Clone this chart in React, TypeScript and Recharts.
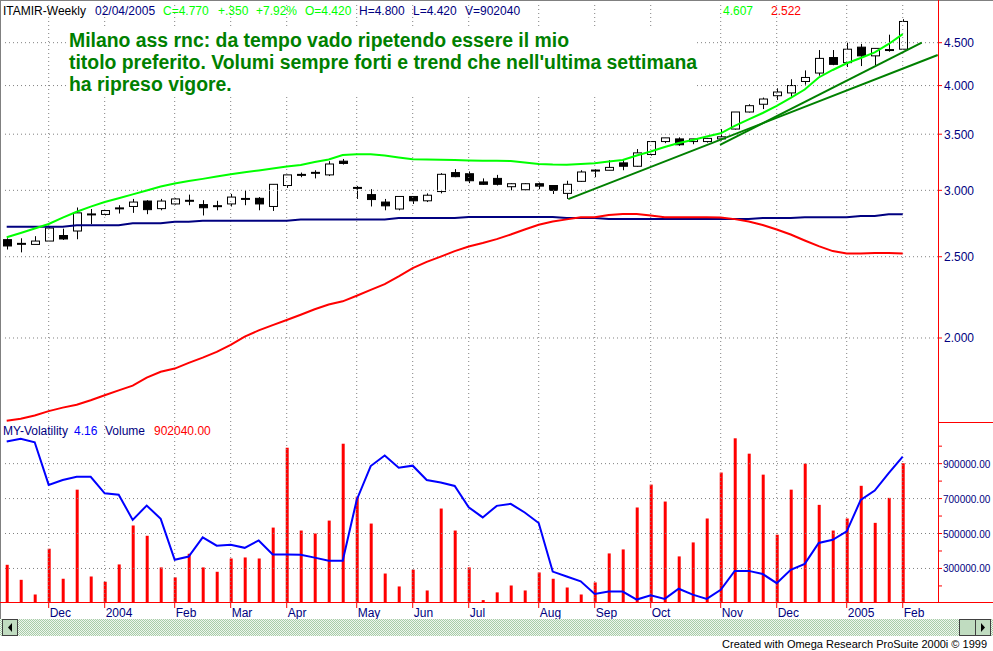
import React from "react";
import { ComposedChart, Bar, Line, XAxis, YAxis, ReferenceLine } from "recharts";

// weekly bars, Nov 14 2003 .. Feb 4 2005
const weekIdx = Array.from({ length: 65 }, (_, i) => i);

const opens = [
  2.62, 2.59, 2.586, 2.61, 2.65, 2.683, 2.808, 2.808, 2.855, 2.87,
  2.913, 2.853, 2.89, 2.915, 2.885, 2.865, 2.89, 2.93, 2.935, 2.87,
  3.04, 3.13, 3.155, 3.13, 3.25, 3.02, 2.965, 2.905, 2.85, 2.95,
  2.915, 2.99, 3.15, 3.14, 3.07, 3.1, 3.03, 3.005, 3.055, 3.04,
  2.975, 3.075, 3.17, 3.17, 3.235, 3.205, 3.31, 3.43, 3.455, 3.43,
  3.43, 3.455, 3.55, 3.72, 3.8, 3.89, 3.92, 4.045, 4.14, 4.32,
  4.26, 4.445, 4.34, 4.4, 4.42,
];
const highs = [
  2.63, 2.63, 2.645, 2.72, 2.7, 2.862, 2.85, 2.84, 2.88, 2.93,
  2.92, 2.93, 2.935, 2.965, 2.92, 2.915, 2.97, 3.0, 2.945, 3.05,
  3.13, 3.15, 3.17, 3.25, 3.27, 3.035, 3.01, 2.93, 2.95, 2.95,
  2.975, 3.145, 3.18, 3.16, 3.1, 3.13, 3.06, 3.06, 3.065, 3.04,
  3.08, 3.17, 3.18, 3.26, 3.26, 3.36, 3.43, 3.465, 3.47, 3.455,
  3.465, 3.55, 3.72, 3.8, 3.87, 3.97, 4.07, 4.17, 4.41, 4.41,
  4.5, 4.485, 4.43, 4.6, 4.8,
];
const lows = [
  2.55, 2.53, 2.586, 2.61, 2.618, 2.623, 2.735, 2.8, 2.815, 2.82,
  2.81, 2.84, 2.885, 2.88, 2.8, 2.84, 2.87, 2.88, 2.84, 2.835,
  3.02, 3.11, 3.1, 3.12, 3.22, 2.93, 2.87, 2.84, 2.84, 2.89,
  2.905, 2.975, 3.11, 3.06, 3.045, 3.04, 3.0, 3.0, 3.01, 2.97,
  2.93, 3.07, 3.11, 3.17, 3.17, 3.2, 3.3, 3.415, 3.39, 3.405,
  3.42, 3.44, 3.545, 3.715, 3.75, 3.845, 3.88, 4.01, 4.11, 4.23,
  4.21, 4.22, 4.23, 4.39, 4.42,
];
const closes = [
  2.575, 2.59, 2.61, 2.705, 2.625, 2.82, 2.808, 2.838, 2.855, 2.905,
  2.845, 2.913, 2.93, 2.915, 2.86, 2.88, 2.945, 2.93, 2.89, 3.05,
  3.13, 3.13, 3.14, 3.225, 3.23, 3.02, 2.925, 2.875, 2.95, 2.915,
  2.96, 3.135, 3.115, 3.08, 3.05, 3.05, 3.055, 3.055, 3.035, 3.0,
  3.05, 3.155, 3.165, 3.195, 3.205, 3.325, 3.43, 3.465, 3.4, 3.455,
  3.46, 3.475, 3.72, 3.785, 3.855, 3.93, 4.0, 4.09, 4.31, 4.24,
  4.42, 4.34, 4.43, 4.42, 4.77,
];

// bands / averages drawn on the price panel
const upperBand = [
  2.637, 2.668, 2.701, 2.735, 2.784, 2.829, 2.869, 2.905, 2.935, 2.967,
  2.999, 3.031, 3.057, 3.078, 3.096, 3.116, 3.135, 3.152, 3.168, 3.185,
  3.203, 3.216, 3.243, 3.265, 3.306, 3.312, 3.312, 3.301, 3.283, 3.267,
  3.265, 3.263, 3.26, 3.257, 3.254, 3.253, 3.251, 3.238, 3.225, 3.22,
  3.218, 3.225, 3.231, 3.247, 3.26, 3.301, 3.337, 3.379, 3.416, 3.445,
  3.478, 3.509, 3.58, 3.646, 3.71, 3.782, 3.866, 3.957, 4.09, 4.175,
  4.253, 4.315, 4.381, 4.484, 4.607,
];
const lowerBand = [
  1.593, 1.602, 1.617, 1.636, 1.652, 1.665, 1.686, 1.709, 1.732, 1.755,
  1.794, 1.823, 1.839, 1.868, 1.895, 1.925, 1.963, 2.008, 2.042, 2.072,
  2.101, 2.132, 2.164, 2.193, 2.212, 2.246, 2.283, 2.319, 2.369, 2.423,
  2.465, 2.501, 2.539, 2.571, 2.596, 2.624, 2.657, 2.694, 2.729, 2.754,
  2.77, 2.786, 2.786, 2.803, 2.811, 2.811, 2.799, 2.786, 2.786, 2.786,
  2.786, 2.784, 2.772, 2.754, 2.727, 2.694, 2.657, 2.614, 2.574, 2.539,
  2.522, 2.522, 2.525, 2.525, 2.522,
];
const longAvg = [
  2.714, 2.714, 2.714, 2.714, 2.714, 2.725, 2.725, 2.725, 2.725, 2.74,
  2.74, 2.74, 2.752, 2.752, 2.76, 2.76, 2.76, 2.76, 2.76, 2.76,
  2.76, 2.77, 2.77, 2.77, 2.77, 2.77, 2.77, 2.77, 2.78, 2.78,
  2.78, 2.78, 2.78, 2.788, 2.788, 2.788, 2.788, 2.788, 2.788, 2.788,
  2.78, 2.78, 2.78, 2.772, 2.772, 2.772, 2.772, 2.772, 2.772, 2.772,
  2.772, 2.772, 2.772, 2.772, 2.78, 2.78, 2.78, 2.786, 2.786, 2.786,
  2.786, 2.796, 2.796, 2.809, 2.809,
];

const volumes = [
  321000, 235000, 151000, 413000, 241000, 751000, 254000, 224000, 323000, 546000,
  487000, 306000, 249000, 384000, 306000, 281000, 357000, 363000, 357000, 534000,
  991000, 517000, 500000, 574000, 1014000, 711000, 557000, 271000, 197000, 293000,
  174000, 643000, 517000, 306000, 119000, 163000, 203000, 174000, 277000, 241000,
  191000, 151000, 220000, 386000, 409000, 649000, 780000, 683000, 369000, 449000,
  586000, 849000, 1045000, 957000, 837000, 493000, 751000, 900000, 664000, 517000,
  586000, 773000, 561000, 704000, 902040,
];
const volatility = [
  4.59, 4.67, 4.57, 3.35, 3.49, 3.58, 3.58, 3.11, 3.07, 2.35,
  2.76, 2.38, 1.21, 1.3, 1.85, 1.61, 1.64, 1.55, 1.76, 1.36,
  1.36, 1.35, 1.27, 1.18, 1.18, 2.92, 3.89, 4.19, 3.84, 3.9,
  3.49, 3.42, 3.32, 2.71, 2.42, 2.75, 2.81, 2.56, 2.26, 0.87,
  0.73, 0.59, 0.23, 0.3, 0.3, 0.07, 0.19, 0.09, 0.38, 0.21,
  0.09, 0.35, 0.89, 0.89, 0.8, 0.54, 0.92, 1.09, 1.69, 1.78,
  2.02, 2.92, 3.19, 3.69, 4.16,
];

const monthTicks = [3, 7, 12, 16, 20, 25, 29, 33, 38, 42, 46, 51, 55, 60, 64];
const monthLabels = ["Dec", "2004", "Feb", "Mar", "Apr", "May", "Jun", "Jul", "Aug", "Sep", "Oct", "Nov", "Dec", "2005", "Feb"];
const priceTicks = [2, 2.5, 3, 3.5, 4, 4.5];
const volTicks = [200000, 300000, 400000, 500000, 600000, 700000, 800000, 900000, 1000000];
const volLabelled = [300000, 500000, 700000, 900000];

// hand-drawn trendlines, in (week, price)
const trendLines = [
  { x1: 40.11, y1: 2.929, x2: 66.5, y2: 4.35 },
  { x1: 50.95, y1: 3.399, x2: 65.36, y2: 4.5 },
];

const noteLines = [
  "Milano ass rnc: da tempo vado ripetendo essere il mio",
  "titolo preferito. Volumi sempre forti e trend che nell'ultima settimana",
  "ha ripreso vigore.",
];

const rows = weekIdx.map((i) => ({
  i,
  open: opens[i],
  high: highs[i],
  low: lows[i],
  close: closes[i],
  upper: upperBand[i],
  lower: lowerBand[i],
  avg: longAvg[i],
  vol: volumes[i],
  vx: volatility[i],
}));

const FONT = "'Liberation Sans', Arial, sans-serif";
const NAVY = "#000080";
const X_DOMAIN: [number, number] = [-0.264, 66.52];

const Candle = (props: any) => {
  const { x, y, width, height, payload } = props;
  if (x == null || y == null) return null;
  const top = Math.min(y, y + height);
  const bot = Math.max(y, y + height);
  const lnH = Math.log(payload.high);
  const lnL = Math.log(payload.low);
  const py = (v: number) => top + ((bot - top) * (lnH - Math.log(v))) / (lnH - lnL);
  const yO = py(payload.open);
  const yC = py(payload.close);
  const bTop = Math.min(yO, yC);
  const bBot = Math.max(yO, yC);
  const cx = Math.round(x + width / 2) + 0.5;
  const up = payload.close >= payload.open;
  return (
    <g>
      <line x1={cx} x2={cx} y1={top} y2={bot} stroke="#000" strokeWidth={1} />
      {bBot - bTop < 2 ? (
        <rect x={cx - 4.5} y={(bTop + bBot) / 2 - 1} width={9} height={2} fill="#000" />
      ) : (
        <rect x={cx - 4} y={bTop} width={8} height={bBot - bTop} fill={up ? "#fff" : "#000"} stroke="#000" strokeWidth={1} />
      )}
    </g>
  );
};

const PriceTick = (props: any) => {
  const { x, y, payload } = props;
  return (
    <g>
      <line x1={x} x2={x + 4} y1={y} y2={y} stroke="#ff0000" />
      <text x={x + 6} y={y + 4.5} fill={NAVY} fontSize={12} fontFamily={FONT}>
        {payload.value.toFixed(3)}
      </text>
    </g>
  );
};

const VolTick = (props: any) => {
  const { x, y, payload } = props;
  const show = volLabelled.includes(payload.value);
  return (
    <g>
      <line x1={x} x2={x + 4} y1={y} y2={y} stroke="#ff0000" />
      {show && (
        <text x={x + 5} y={y + 4} fill={NAVY} fontSize={10} fontFamily={FONT}>
          {payload.value.toFixed(2)}
        </text>
      )}
    </g>
  );
};

const MonthTick = (props: any) => {
  const { x, y, payload, index } = props;
  return (
    <g>
      <line x1={x} x2={x} y1={y} y2={y + 6} stroke="#ff0000" />
      <text x={x + 1} y={y + 15} fill={NAVY} fontSize={12} fontFamily={FONT}>
        {monthLabels[index] ?? monthLabels[monthTicks.indexOf(payload.value)]}
      </text>
    </g>
  );
};

const gridProps = { stroke: "#808080", strokeDasharray: "1 3", strokeWidth: 1 };

export default function App() {
  const last = weekIdx.length - 1;
  const chg = closes[last] - closes[last - 1];
  const chgTxt = (chg >= 0 ? "+" : "-") + Math.abs(chg).toFixed(3).replace(/^0/, "");
  const pctTxt = (chg >= 0 ? "+" : "-") + Math.abs((chg / closes[last - 1]) * 100).toFixed(2) + "%";

  const header = [
    { x: 3, t: "ITAMIR-Weekly", c: "#000" },
    { x: 95, t: "02/04/2005", c: NAVY },
    { x: 163, t: "C=" + closes[last].toFixed(3), c: "#00ff00" },
    { x: 218, t: chgTxt, c: "#00ff00" },
    { x: 256, t: pctTxt, c: "#00ff00" },
    { x: 305, t: "O=" + opens[last].toFixed(3), c: "#00ff00" },
    { x: 359, t: "H=" + highs[last].toFixed(3), c: NAVY },
    { x: 413, t: "L=" + lows[last].toFixed(3), c: NAVY },
    { x: 465, t: "V=" + volumes[last], c: NAVY },
    { x: 723, t: upperBand[last].toFixed(3), c: "#00ff00" },
    { x: 771, t: lowerBand[last].toFixed(3), c: "#ff0000" },
  ];
  const volHeader = [
    { x: 3, t: "MY-Volatility", c: NAVY },
    { x: 74, t: volatility[last].toFixed(2), c: "#0000ff" },
    { x: 105, t: "Volume", c: NAVY },
    { x: 154, t: volumes[last].toFixed(2), c: "#ff0000" },
  ];

  return (
    <div style={{ position: "absolute", left: 0, top: 0, width: 993, height: 651, background: "#fff", overflow: "hidden" }}>
      <div style={{ position: "absolute", left: 0, top: 0 }}>
        <ComposedChart width={993} height={422} data={rows} margin={{ top: 3, right: 0, bottom: 0, left: 3 }}>
          <XAxis dataKey="i" type="number" domain={X_DOMAIN} allowDataOverflow hide />
          <YAxis
            orientation="right"
            width={55}
            scale="log"
            domain={[1.588, 5.018]}
            allowDataOverflow
            ticks={priceTicks}
            tick={<PriceTick />}
            tickSize={0}
            tickMargin={0}
            axisLine={false}
            tickLine={false}
            interval={0}
          />
          {priceTicks.map((v) => (
            <ReferenceLine key={"h" + v} y={v} {...gridProps} />
          ))}
          {monthTicks.map((m) => (
            <ReferenceLine key={"v" + m} x={m} {...gridProps} />
          ))}
          <Bar dataKey={(d: any) => [d.low, d.high]} barSize={10} shape={<Candle />} isAnimationActive={false} />
          <Line dataKey="avg" type="linear" stroke={NAVY} strokeWidth={2} dot={false} isAnimationActive={false} />
          <Line dataKey="lower" type="linear" stroke="#ff0000" strokeWidth={2} dot={false} isAnimationActive={false} />
          <Line dataKey="upper" type="linear" stroke="#00ff00" strokeWidth={2} dot={false} isAnimationActive={false} />
          {trendLines.map((t, k) => (
            <ReferenceLine
              key={"t" + k}
              segment={[{ x: t.x1, y: t.y1 }, { x: t.x2, y: t.y2 }]}
              stroke="#008000"
              strokeWidth={2}
            />
          ))}
        </ComposedChart>
      </div>

      <div style={{ position: "absolute", left: 0, top: 422 }}>
        <ComposedChart width={993} height={198} data={rows} margin={{ top: 0, right: 0, bottom: 0, left: 3 }}>
          <XAxis
            dataKey="i"
            type="number"
            domain={X_DOMAIN}
            allowDataOverflow
            ticks={monthTicks}
            interval={0}
            height={18}
            tick={<MonthTick />}
            tickSize={0}
            tickMargin={0}
            axisLine={false}
            tickLine={false}
          />
          <YAxis
            yAxisId="vol"
            orientation="right"
            width={55}
            domain={[108000, 1138286]}
            allowDataOverflow
            ticks={volTicks}
            interval={0}
            tick={<VolTick />}
            tickSize={0}
            tickMargin={0}
            axisLine={false}
            tickLine={false}
          />
          <YAxis yAxisId="vx" hide domain={[0, 5.15]} allowDataOverflow />
          {volLabelled.map((v) => (
            <ReferenceLine key={"vh" + v} yAxisId="vol" y={v} {...gridProps} />
          ))}
          {monthTicks.map((m) => (
            <ReferenceLine key={"vv" + m} yAxisId="vol" x={m} {...gridProps} />
          ))}
          <Bar yAxisId="vol" dataKey="vol" barSize={3} fill="#ff0000" isAnimationActive={false} />
          <Line yAxisId="vx" dataKey="vx" type="linear" stroke="#0000ff" strokeWidth={2} dot={false} isAnimationActive={false} />
        </ComposedChart>
      </div>

      <svg width={993} height={651} style={{ position: "absolute", left: 0, top: 0, pointerEvents: "none" }}>
        <defs>
          <pattern id="track" width={2} height={2} patternUnits="userSpaceOnUse">
            <rect width={2} height={2} fill="#eef6ee" />
            <rect width={1} height={1} fill="#a8cca8" />
            <rect x={1} y={1} width={1} height={1} fill="#a8cca8" />
          </pattern>
        </defs>

        <line x1={0.5} x2={0.5} y1={0} y2={619} stroke="#808080" />
        <line x1={0} x2={993} y1={0.5} y2={0.5} stroke="#808080" />

        {/* note box */}
        <rect x={67} y={28} width={630} height={69} fill="#fff" />
        {noteLines.map((t, k) => (
          <text key={k} x={69} y={46.7 + k * 22} fill="#008000" fontSize={19.4} fontWeight="bold" fontFamily={FONT}>
            {t}
          </text>
        ))}

        {header.map((h, k) => (
          <text key={k} x={h.x} y={15} fill={h.c} fontSize={12} fontFamily={FONT}>
            {h.t}
          </text>
        ))}
        {volHeader.map((h, k) => (
          <text key={k} x={h.x} y={435} fill={h.c} fontSize={12} fontFamily={FONT}>
            {h.t}
          </text>
        ))}

        <line x1={938.5} x2={938.5} y1={0} y2={603} stroke="#ff0000" />
        <line x1={938} x2={993} y1={422.5} y2={422.5} stroke="#ff0000" />
        <line x1={0} x2={993} y1={602.5} y2={602.5} stroke="#ff0000" />

        {/* scrollbar */}
        <rect x={0} y={619} width={993} height={17} fill="url(#track)" />
        <rect x={2.5} y={619.5} width={15} height={16} fill="#c0dcc0" stroke="#404040" />
        <path d="M12 623 L8 627.5 L12 632 Z" fill="#000" />
        <rect x={959.5} y={619.5} width={16} height={16} fill="#c0dcc0" stroke="#404040" />
        <rect x={975.5} y={619.5} width={15} height={16} fill="#c0dcc0" stroke="#404040" />
        <path d="M981 623 L985 627.5 L981 632 Z" fill="#000" />

        <text x={987} y={648} textAnchor="end" fill="#000" fontSize={11} fontFamily={FONT}>
          Created with Omega Research ProSuite 2000i © 1999
        </text>
      </svg>
    </div>
  );
}
